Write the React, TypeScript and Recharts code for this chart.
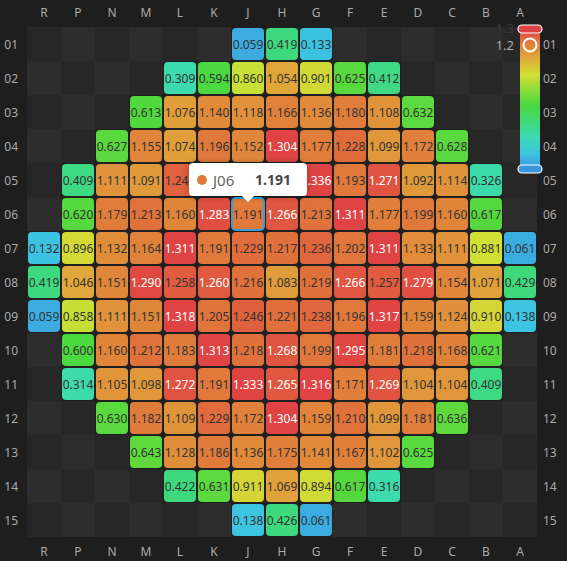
import React from 'react';
import { ScatterChart, Scatter, XAxis, YAxis } from 'recharts';

const columns = ['R', 'P', 'N', 'M', 'L', 'K', 'J', 'H', 'G', 'F', 'E', 'D', 'C', 'B', 'A'];
const rows = ['01', '02', '03', '04', '05', '06', '07', '08', '09', '10', '11', '12', '13', '14', '15'];

const _ = null;
const row01 = [_, _, _, _, _, _, 0.059, 0.419, 0.133, _, _, _, _, _, _];
const row02 = [_, _, _, _, 0.309, 0.594, 0.860, 1.054, 0.901, 0.625, 0.412, _, _, _, _];
const row03 = [_, _, _, 0.613, 1.076, 1.140, 1.118, 1.166, 1.136, 1.180, 1.108, 0.632, _, _, _];
const row04 = [_, _, 0.627, 1.155, 1.074, 1.196, 1.152, 1.304, 1.177, 1.228, 1.099, 1.172, 0.628, _, _];
const row05 = [_, 0.409, 1.111, 1.091, 1.245, 1.218, 1.185, 1.247, 1.336, 1.193, 1.271, 1.092, 1.114, 0.326, _];
const row06 = [_, 0.620, 1.179, 1.213, 1.160, 1.283, 1.191, 1.266, 1.213, 1.311, 1.177, 1.199, 1.160, 0.617, _];
const row07 = [0.132, 0.896, 1.132, 1.164, 1.311, 1.191, 1.229, 1.217, 1.236, 1.202, 1.311, 1.133, 1.111, 0.881, 0.061];
const row08 = [0.419, 1.046, 1.151, 1.290, 1.258, 1.260, 1.216, 1.083, 1.219, 1.266, 1.257, 1.279, 1.154, 1.071, 0.429];
const row09 = [0.059, 0.858, 1.111, 1.151, 1.318, 1.205, 1.246, 1.221, 1.238, 1.196, 1.317, 1.159, 1.124, 0.910, 0.138];
const row10 = [_, 0.600, 1.160, 1.212, 1.183, 1.313, 1.218, 1.268, 1.199, 1.295, 1.181, 1.218, 1.168, 0.621, _];
const row11 = [_, 0.314, 1.105, 1.098, 1.272, 1.191, 1.333, 1.265, 1.316, 1.171, 1.269, 1.104, 1.104, 0.409, _];
const row12 = [_, _, 0.630, 1.182, 1.109, 1.229, 1.172, 1.304, 1.159, 1.210, 1.099, 1.181, 0.636, _, _];
const row13 = [_, _, _, 0.643, 1.128, 1.186, 1.136, 1.175, 1.141, 1.167, 1.102, 0.625, _, _, _];
const row14 = [_, _, _, _, 0.422, 0.631, 0.911, 1.069, 0.894, 0.617, 0.316, _, _, _, _];
const row15 = [_, _, _, _, _, _, 0.138, 0.426, 0.061, _, _, _, _, _, _];

const rowValues = [row01, row02, row03, row04, row05, row06, row07, row08, row09, row10, row11, row12, row13, row14, row15];

const hoveredCol = 'J';
const hoveredRow = '06';

const scaleMin = 0;
const scaleMax = 1.3;
const colorStops: [number, string][] = [
  [0.0, '#3a97df'],
  [0.13, '#3cc3e2'],
  [0.31, '#3ddab0'],
  [0.42, '#3ed97e'],
  [0.6, '#4cd83f'],
  [0.88, '#d0e035'],
  [1.05, '#e0a73a'],
  [1.14, '#e08a3a'],
  [1.22, '#e0703b'],
  [1.3, '#e04343'],
];

const W = 567;
const H = 561;
const M = { left: 27, right: 30, top: 27, bottom: 24 };
const CELL = (W - M.left - M.right) / columns.length;
const FONT = '"Noto Sans", "Open Sans", sans-serif';
const AXIS_COLOR = '#aaaaaa';

function hexToRgb(h: string) {
  const n = parseInt(h.slice(1), 16);
  return [(n >> 16) & 255, (n >> 8) & 255, n & 255];
}
function colorFor(v: number) {
  const c = Math.max(scaleMin, Math.min(scaleMax, v));
  for (let i = 0; i < colorStops.length - 1; i++) {
    const [a, ca] = colorStops[i];
    const [b, cb] = colorStops[i + 1];
    if (c >= a && c <= b) {
      const t = (c - a) / (b - a);
      const A = hexToRgb(ca);
      const B = hexToRgb(cb);
      const m = A.map((x, k) => Math.round(x + (B[k] - x) * t));
      return `rgb(${m[0]},${m[1]},${m[2]})`;
    }
  }
  return colorStops[colorStops.length - 1][1];
}

const BgShape = (p: any) => {
  const d = p.payload;
  const light = (d.x + d.y) % 2 === 1;
  return (
    <rect x={p.cx - CELL / 2} y={p.cy - CELL / 2} width={CELL} height={CELL} fill={light ? '#2c2c2c' : '#272727'} />
  );
};

const CellShape = (p: any) => {
  const d = p.payload;
  const hovered = d.col === hoveredCol && d.row === hoveredRow;
  const fill = colorFor(d.value);
  return (
    <g>
      <rect x={p.cx - CELL / 2} y={p.cy - CELL / 2} width={CELL} height={CELL} fill="#202020" />
      <rect
        x={p.cx - CELL / 2 + 1}
        y={p.cy - CELL / 2 + 1}
        width={CELL - 2}
        height={CELL - 2}
        rx={4}
        ry={4}
        fill={fill}
        stroke={hovered ? '#3a9fd2' : 'none'}
        strokeWidth={hovered ? 2 : 0}
      />
      <text
        x={p.cx}
        y={p.cy}
        textAnchor="middle"
        dominantBaseline="central"
        fontFamily={FONT}
        fontSize={12}
        fill={d.value >= 1.259 ? '#ffffff' : '#333333'}
      >
        {d.value.toFixed(3)}
      </text>
    </g>
  );
};

const TopTick = (p: any) => (
  <text x={p.x} y={p.y - 7} textAnchor="middle" dominantBaseline="central" fontFamily={FONT} fontSize={12} fill={AXIS_COLOR}>
    {columns[p.payload.value]}
  </text>
);
const BottomTick = (p: any) => (
  <text x={p.x} y={p.y + 6} textAnchor="middle" dominantBaseline="central" fontFamily={FONT} fontSize={12} fill={AXIS_COLOR}>
    {columns[p.payload.value]}
  </text>
);
const LeftTick = (p: any) => (
  <text x={p.x - 1} y={p.y} textAnchor="end" dominantBaseline="central" fontFamily={FONT} fontSize={12} fill={AXIS_COLOR}>
    {rows[p.payload.value]}
  </text>
);
const RightTick = (p: any) => (
  <text x={p.x - 2} y={p.y} textAnchor="start" dominantBaseline="central" fontFamily={FONT} fontSize={12} fill={AXIS_COLOR}>
    {rows[p.payload.value]}
  </text>
);

const VisualMap = ({ value }: { value: number }) => {
  const bar = { x: 520, y: 31, w: 20, h: 137 };
  const y0 = bar.y + 3;
  const y1 = bar.y + bar.h - 3;
  const cy = y0 + ((scaleMax - value) / (scaleMax - scaleMin)) * (y1 - y0);
  const stops = [...colorStops].reverse();
  return (
    <svg width={W} height={H} style={{ position: 'absolute', left: 0, top: 0, pointerEvents: 'none' }}>
      <defs>
        <linearGradient id="vmGrad" x1="0" y1="0" x2="0" y2="1">
          {stops.map(([v, c], i) => (
            <stop key={i} offset={(scaleMax - v) / (scaleMax - scaleMin)} stopColor={c} />
          ))}
        </linearGradient>
      </defs>
      <text x={514} y={28} textAnchor="end" dominantBaseline="central" fontFamily={FONT} fontSize={13} fill="#3a3a3a">
        {scaleMax.toFixed(1)}
      </text>
      <rect x={bar.x} y={bar.y} width={bar.w} height={bar.h} fill="url(#vmGrad)" />
      <rect x={bar.x - 2} y={bar.y - 6} width={bar.w + 4} height={8} rx={4} fill={colorFor(scaleMax)} stroke="#ffffff" strokeWidth={1.2} />
      <rect x={bar.x - 2} y={bar.y + bar.h - 3} width={bar.w + 4} height={8} rx={4} fill={colorFor(scaleMin)} stroke="#ffffff" strokeWidth={1.2} />
      <circle cx={bar.x + bar.w / 2} cy={cy} r={6.5} fill="none" stroke="#ffffff" strokeWidth={2} />
      <text x={514} y={cy} textAnchor="end" dominantBaseline="central" fontFamily={FONT} fontSize={13} fill={AXIS_COLOR}>
        {value.toFixed(1)}
      </text>
    </svg>
  );
};

const TooltipBox = ({ col, row, value }: { col: number; row: number; value: number }) => {
  const w = 118;
  const h = 33;
  const cx = M.left + col * CELL + CELL / 2;
  const cellTop = M.top + row * CELL;
  return (
    <div style={{ position: 'absolute', left: cx - w / 2, top: cellTop - h - 1, width: w, height: h, pointerEvents: 'none' }}>
      <div
        style={{
          width: w,
          height: h,
          background: '#ffffff',
          borderRadius: 4,
          boxShadow: '0 0 6px rgba(0,0,0,0.3)',
          display: 'flex',
          alignItems: 'center',
          boxSizing: 'border-box',
          padding: '0 16px 0 8px',
          fontFamily: FONT,
        }}
      >
        <span style={{ width: 10, height: 10, borderRadius: 5, background: colorFor(value), marginRight: 6, flex: 'none' }} />
        <span style={{ fontSize: 15, color: '#666666' }}>{columns[col] + rows[row]}</span>
        <span style={{ marginLeft: 'auto', fontSize: 14, fontWeight: 700, color: '#464646' }}>{value.toFixed(3)}</span>
      </div>
      <div
        style={{
          position: 'absolute',
          left: w / 2 - 6,
          top: h,
          width: 0,
          height: 0,
          borderLeft: '6px solid transparent',
          borderRight: '6px solid transparent',
          borderTop: '6px solid #ffffff',
        }}
      />
    </div>
  );
};

export default function App() {
  const grid = rows.flatMap((r, ri) =>
    columns.map((c, ci) => ({ x: ci, y: ri, col: c, row: r, value: rowValues[ri][ci] as number | null }))
  );
  const filled = grid.filter((d) => d.value !== null);
  const ticks = columns.map((_c, i) => i);
  const hc = columns.indexOf(hoveredCol);
  const hr = rows.indexOf(hoveredRow);
  const hv = rowValues[hr][hc] as number;

  return (
    <div style={{ position: 'fixed', left: 0, top: 0, width: W, height: H, background: '#1e1e1e', overflow: 'hidden' }}>
      <ScatterChart width={W} height={H} margin={{ top: 0, right: 0, bottom: 0, left: 0 }}>
        <XAxis
          xAxisId="top"
          orientation="top"
          type="number"
          dataKey="x"
          domain={[-0.5, columns.length - 0.5]}
          ticks={ticks}
          interval={0}
          height={M.top}
          axisLine={false}
          tickLine={false}
          tick={(p: any) => <TopTick {...p} />}
        />
        <XAxis
          xAxisId="bottom"
          orientation="bottom"
          type="number"
          dataKey="x"
          domain={[-0.5, columns.length - 0.5]}
          ticks={ticks}
          interval={0}
          height={M.bottom}
          axisLine={false}
          tickLine={false}
          tick={(p: any) => <BottomTick {...p} />}
        />
        <YAxis
          yAxisId="left"
          orientation="left"
          type="number"
          dataKey="y"
          reversed
          domain={[-0.5, rows.length - 0.5]}
          ticks={ticks}
          interval={0}
          width={M.left}
          axisLine={false}
          tickLine={false}
          tick={(p: any) => <LeftTick {...p} />}
        />
        <YAxis
          yAxisId="right"
          orientation="right"
          type="number"
          dataKey="y"
          reversed
          domain={[-0.5, rows.length - 0.5]}
          ticks={ticks}
          interval={0}
          width={M.right}
          axisLine={false}
          tickLine={false}
          tick={(p: any) => <RightTick {...p} />}
        />
        <Scatter xAxisId="top" yAxisId="right" data={grid} shape={BgShape} isAnimationActive={false} />
        <Scatter xAxisId="bottom" yAxisId="left" data={filled} shape={CellShape} isAnimationActive={false} />
      </ScatterChart>
      <VisualMap value={hv} />
      <TooltipBox col={hc} row={hr} value={hv} />
    </div>
  );
}
